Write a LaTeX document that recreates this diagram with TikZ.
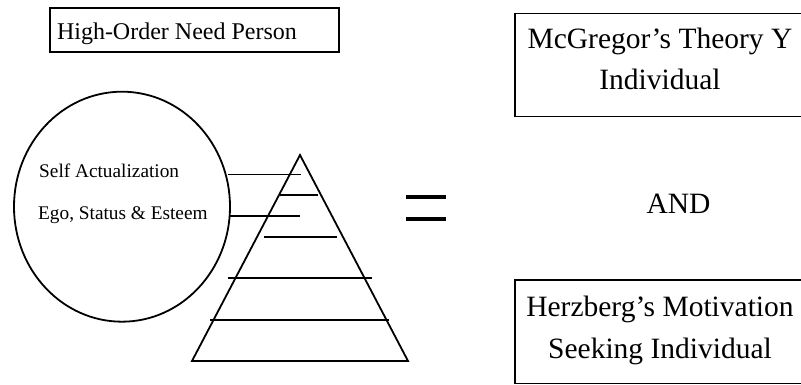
\documentclass[tikz,border=0pt]{standalone}
\usepackage{fontspec}
\setmainfont{Liberation Serif}
\usepackage{tikz}
\usetikzlibrary{shapes.geometric}

\begin{document}
\begin{tikzpicture}[
 x=1pt,y=1pt,
 hbox/.style={draw,line width=1.8pt,outer sep=0pt,inner ysep=0pt,inner xsep=7pt,text width=275pt,align=flush left,font=\fontsize{24}{28}\selectfont},
 rbox/.style={draw,line width=1.4pt,outer sep=0pt,inner sep=0pt,text width=290pt,align=flush center,font=\fontsize{29.5}{41.7}\selectfont},
 ltxt/.style={inner sep=0pt,anchor=base west,font=\fontsize{19.3}{23}\selectfont},
 rung/.style={line width=1.2pt},
 eqbar/.style={line width=4pt}
]
\useasboundingbox (0,0) rectangle (801,385);
\clip (0,0) rectangle (801,385);

% left part: the person and the pyramid
\node[hbox,anchor=north west,text height=31.7pt,text depth=11.7pt] (hop) at (50,376.7) {High-Order Need Person};
\node[ellipse,draw,line width=1.8pt,minimum width=216pt,minimum height=230pt,inner sep=0pt,outer sep=0pt] (need) at (122,178.3) {};
\node[ltxt] (selfact) at (39,207) {Self Actualization};
\node[ltxt] (ego) at (38,165) {Ego, Status \& Esteem};

\coordinate (apex) at (300,230);
\coordinate (bl) at (192,24);
\coordinate (br) at (408,24);
\draw[line width=1.8pt,line join=miter] (apex) -- (br) -- (bl) -- cycle;
\foreach \ya/\xa/\xb in {210.7/228/300.7, 190/280/318, 169/229/300, 107/228/372, 65/210/389}
  \draw[rung] (\xa,\ya) -- (\xb,\ya);
\draw[rung,line width=1.6pt] (264,147.7) -- (336.7,147.7);

% equals sign
\draw[eqbar] (406,188.3) -- (445.7,188.3);
\draw[eqbar] (406,166) -- (445.7,166);

% right part
\node[rbox,anchor=north west,text height=35pt,text depth=68.4pt] (mcg) at (515,371.7) {McGregor’s Theory Y\\Individual};
\node[inner sep=0pt,anchor=base,font=\fontsize{29.5}{36}\selectfont] (and) at (678.5,171.7) {AND};
\node[rbox,anchor=north west,text height=36.7pt,text depth=66.6pt] (hzb) at (515,105) {Herzberg’s Motivation\\Seeking Individual};
\end{tikzpicture}
\end{document}
